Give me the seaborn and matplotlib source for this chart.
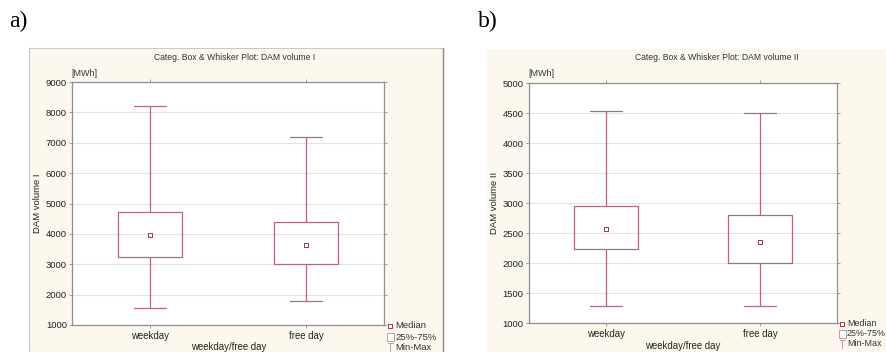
import matplotlib
matplotlib.use("Agg")
import matplotlib.pyplot as plt
from matplotlib.patches import Rectangle
from matplotlib.lines import Line2D
import seaborn as sns
import pandas as pd

# Categories and five-number summaries (min, Q1, median, Q3, max) in MWh
categories = ["weekday", "free day"]
vol1_min = [1550, 1780]
vol1_q1 = [3230, 3000]
vol1_median = [3960, 3620]
vol1_q3 = [4710, 4400]
vol1_max = [8220, 7190]

vol2_min = [1285, 1285]
vol2_q1 = [2240, 2000]
vol2_median = [2570, 2350]
vol2_q3 = [2950, 2810]
vol2_max = [4540, 4500]

vol1_ticks = [1000, 2000, 3000, 4000, 5000, 6000, 7000, 8000, 9000]
vol2_ticks = [1000, 1500, 2000, 2500, 3000, 3500, 4000, 4500, 5000]

sns.set_theme(style="white")
plt.rcParams["font.family"] = ["Liberation Sans", "DejaVu Sans"]

BOX = "#b06a78"
MED = "#8e3c52"
PANEL = "#fdf8ee"
GRID = "#e4e4e4"
SPINE = "#8f8f8f"
W, H = 887, 352


def fx(px):
    return px / W


def fy(py):
    return 1 - py / H


def summary_frame(mins, q1s, meds, q3s, maxs):
    rows = []
    for i, cat in enumerate(categories):
        for v in (mins[i], q1s[i], meds[i], q3s[i], maxs[i]):
            rows.append({"day": cat, "volume": v})
    return pd.DataFrame(rows)


fig = plt.figure(figsize=(W / 100, H / 100), dpi=100)
fig.patch.set_facecolor("white")

# Panel backgrounds (kept behind the axes)
fig.patches.append(Rectangle((fx(29), 0), fx(443) - fx(29), fy(48),
                             transform=fig.transFigure, facecolor=PANEL,
                             edgecolor="#c8c8c8", linewidth=0.8, zorder=-5))
fig.patches.append(Rectangle((fx(487), 0), fx(890) - fx(487), fy(49),
                             transform=fig.transFigure, facecolor=PANEL,
                             edgecolor="none", zorder=-5))
fig.add_artist(Line2D([fx(443), fx(443)], [0, fy(48)], transform=fig.transFigure,
                      color="#8a8a8a", linewidth=1.0, zorder=-4))


def draw_panel(rect, mins, q1s, meds, q3s, maxs, ticks, ylabel, title, title_x,
               unit_x, unit_y, letter, letter_x, legend_x, legend_ys,
               ylabel_x, xlabel_y, legend_fs):
    ax = fig.add_axes(rect)
    ax.set_facecolor("white")
    df = summary_frame(mins, q1s, meds, q3s, maxs)
    sns.boxplot(data=df, x="day", y="volume", order=categories, whis=(0, 100),
                width=0.41, fill=False, color=BOX, linewidth=0.9,
                medianprops=dict(visible=False), ax=ax)
    med_df = pd.DataFrame({"day": categories, "volume": meds})
    sns.stripplot(data=med_df, x="day", y="volume", order=categories, jitter=False,
                  marker="s", size=3.4, color="white", edgecolor=MED,
                  linewidth=0.7, zorder=5, ax=ax)
    ax.set_xlim(-0.5, 1.5)
    ax.set_ylim(ticks[0], ticks[-1])
    ax.set_yticks(ticks)
    ax.set_yticklabels([str(t) for t in ticks], fontsize=6.8, color="#222222")
    ax.set_xticks(range(len(categories)))
    ax.set_xticklabels(categories, fontsize=6.9, color="#222222")
    ax.yaxis.grid(True, color=GRID, linewidth=0.8)
    ax.set_axisbelow(True)
    for s in ax.spines.values():
        s.set_color(SPINE)
        s.set_linewidth(0.9)
    ax.tick_params(axis="both", which="both", length=2, width=0.6, color=SPINE,
                   direction="out", pad=2, left=True, bottom=True,
                   right=True, top=True)
    ax.set_ylabel(ylabel, fontsize=6.8, color="#222222")
    ax.set_xlabel("weekday/free day", fontsize=6.9, color="#222222")
    ax.yaxis.set_label_coords(ylabel_x, 0.5)
    ax.xaxis.set_label_coords(0.5, xlabel_y)

    fig.text(fx(title_x), fy(57), title, fontsize=6.2, ha="center", va="center",
             color="#333333")
    fig.text(fx(unit_x), fy(unit_y), "[MWh]", fontsize=6.5, ha="left",
             va="center", color="#333333")
    fig.text(fx(letter_x), fy(21), letter, fontsize=17, ha="left", va="center",
             family=["Liberation Serif", "DejaVu Serif"], color="black")

    # Legend glyphs
    tx = legend_x + 7
    y0, y1, y2 = legend_ys
    fig.add_artist(Line2D([fx(legend_x + 2)], [fy(y0)], transform=fig.transFigure,
                          marker="s", markersize=2.6, markerfacecolor="white",
                          markeredgecolor=MED, markeredgewidth=0.7,
                          linestyle="none"))
    fig.patches.append(Rectangle((fx(legend_x - 1), fy(y1 + 4)), fx(7), 8 / H,
                                 transform=fig.transFigure, facecolor="white",
                                 edgecolor="#9a9a9a", linewidth=0.6))
    fig.add_artist(Line2D([fx(legend_x + 2.5)] * 2, [fy(y2 - 4), fy(y2 + 4)],
                          transform=fig.transFigure, color="#b8a0a6",
                          linewidth=0.7))
    fig.add_artist(Line2D([fx(legend_x), fx(legend_x + 5)], [fy(y2 - 4)] * 2,
                          transform=fig.transFigure, color="#b8a0a6",
                          linewidth=0.7))
    for yy, txt in zip(legend_ys, ["Median", "25%-75%", "Min-Max"]):
        fig.text(fx(tx), fy(yy), txt, fontsize=legend_fs, ha="left", va="center",
                 color="#333333")
    return ax


draw_panel([fx(72.5), fy(325), fx(384) - fx(72.5), (325 - 82) / H],
           vol1_min, vol1_q1, vol1_median, vol1_q3, vol1_max, vol1_ticks,
           "DAM volume I", "Categ. Box & Whisker Plot: DAM volume I", 235,
           71, 73, "a)", 9, 388, (326, 337, 347), -0.0995, -0.072, 6.8)

draw_panel([fx(529), fy(323.3), fx(837) - fx(529), (323.3 - 83.3) / H],
           vol2_min, vol2_q1, vol2_median, vol2_q3, vol2_max, vol2_ticks,
           "DAM volume II", "Categ. Box & Whisker Plot: DAM volume II", 717,
           528, 73, "b)", 478, 840, (324, 334, 344), -0.099, -0.074, 6.4)

fig.savefig("out.png", dpi=100)
